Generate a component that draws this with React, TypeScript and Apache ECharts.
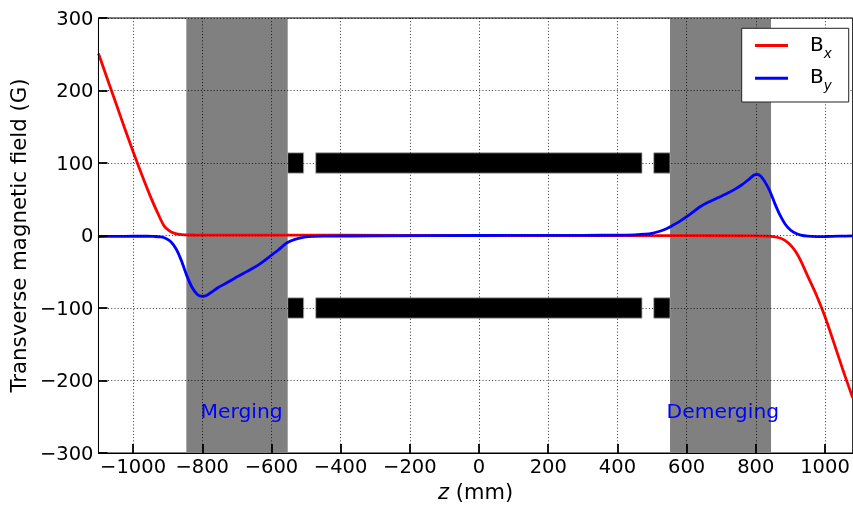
import React, { useEffect, useRef } from "react";
import * as echarts from "echarts";

const FONT = '"DejaVu Sans", sans-serif';

// Transverse field components along the beamline (z in mm, field in G)
const bxZ = [-1100, -1075, -1050, -1025, -1000, -975, -950, -925, -910, -895, -880, -865, -850, -825, -800, -600, -400, 0, 400, 600, 800, 825, 850, 870, 885, 900, 915, 930, 950, 975, 1000, 1025, 1050, 1080];
const bxVal = [251, 217, 183, 149, 116, 84, 54, 27, 13, 6.5, 3, 1.6, 1, 0.7, 0.6, 0.6, 0.5, 0, -0.3, -0.3, -0.5, -0.8, -1.5, -3.5, -7, -13, -22, -35, -56, -82, -112, -147, -183, -224];

const byZ = [-1100, -1050, -1000, -960, -940, -920, -905, -890, -875, -860, -845, -830, -815, -800, -785, -770, -755, -730, -705, -680, -655, -630, -605, -580, -555, -530, -505, -480, -450, -300, 0, 300, 400, 450, 480, 500, 520, 540, 560, 580, 600, 620, 640, 665, 690, 715, 740, 760, 780, 795, 805, 815, 825, 840, 855, 870, 885, 900, 915, 930, 950, 975, 1000, 1040, 1080];
const byVal = [-1.5, -1.2, -1, -1, -1.3, -2, -4, -9, -19, -35, -55, -71, -81, -84, -82, -77, -72, -65.5, -58.5, -52, -45.5, -38, -29, -20, -10, -5, -2.3, -1.2, -0.8, -0.6, 0, 0.3, 0.5, 1, 1.8, 3, 5.5, 9, 14, 19.5, 26, 33, 40, 46.5, 52, 57.5, 64, 70, 77.5, 83.5, 84.3, 81.5, 75, 62, 44, 28, 15.5, 7.5, 3, 0.5, -1, -1.5, -1.4, -1, -0.6];

// Merging / demerging regions (z ranges, mm)
const regionNames = ["Merging", "Demerging"];
const regionRanges = [
  [-846, -553],
  [552, 844],
];
const regionLabelZ = [-805, 542];
const regionLabelField = -242;

// Magnet yokes drawn at +/-100 G
const yokeSegments = [
  [-553, -507],
  [-472, 471],
  [505, 552],
];
const yokeLevels = [100, -100];
const yokeHalfHeight = 14;

const xTicks = [-1000, -800, -600, -400, -200, 0, 200, 400, 600, 800, 1000];
const X_MIN = -1100;
const X_MAX = 1080;
const Y_MIN = -300;
const Y_MAX = 300;

const minusFmt = (v: number) => String(v).replace("-", "\u2212");

export default function App() {
  const ref = useRef<HTMLDivElement>(null);

  useEffect(() => {
    if (!ref.current) return;
    const chart = echarts.init(ref.current, null, { renderer: "svg" });

    const yokeData: number[][] = [];
    yokeLevels.forEach((lvl) => yokeSegments.forEach(([a, b]) => yokeData.push([a, b, lvl])));

    const gridLine = { show: true, lineStyle: { color: "#000", width: 1, type: [1, 2.2], opacity: 0.8 } };

    chart.setOption({
      animation: false,
      textStyle: { fontFamily: FONT },
      grid: {
        left: 97.7,
        right: 0.3,
        top: 18,
        bottom: 53.7,
        show: true,
        borderColor: "#000",
        borderWidth: 1,
        backgroundColor: "transparent",
      },
      legend: {
        data: ["Bx", "By"],
        orient: "vertical",
        left: 741.7,
        top: 28.3,
        icon: "rect",
        itemWidth: 33,
        itemHeight: 3,
        itemGap: 6.7,
        padding: [5.2, 17, 9.8, 13.3],
        borderColor: "#222",
        borderWidth: 1,
        borderRadius: 0,
        backgroundColor: "#fff",
        z: 10,
        formatter: (name: string) => (name === "Bx" ? "{b|B}{s|x}" : "{b|B}{s|y}"),
        textStyle: {
          rich: {
            b: { fontSize: 20, fontFamily: FONT, color: "#000", lineHeight: 24, verticalAlign: "top", padding: [0, 0, 0, 17] },
            s: { fontSize: 13.5, fontFamily: FONT, fontStyle: "italic", color: "#000", lineHeight: 13, verticalAlign: "top", padding: [12, 0, 0, 0] },
          },
        },
      },
      xAxis: {
        type: "value",
        min: X_MIN,
        max: X_MAX,
        z: 5,
        name: "{i|z} (mm)",
        nameLocation: "middle",
        nameGap: 28,
        nameTextStyle: {
          fontSize: 21,
          color: "#000",
          fontFamily: FONT,
          rich: { i: { fontSize: 21, fontStyle: "italic", fontFamily: FONT, color: "#000" } },
        },
        axisLine: { show: true, onZero: false, lineStyle: { color: "#000", width: 1 } },
        axisTick: { show: true, inside: true, length: 9, customValues: xTicks, lineStyle: { color: "#000", width: 1.8 } },
        axisLabel: { customValues: xTicks, fontSize: 19.5, color: "#000", margin: 3, fontFamily: FONT, formatter: minusFmt },
        splitLine: { ...gridLine, customValues: xTicks },
      },
      yAxis: {
        type: "value",
        min: Y_MIN,
        max: Y_MAX,
        interval: 100,
        z: 5,
        name: "Transverse magnetic field (G)",
        nameLocation: "middle",
        nameGap: 64,
        nameTextStyle: { fontSize: 21.3, color: "#000", fontFamily: FONT },
        axisLine: { show: true, onZero: false, lineStyle: { color: "#000", width: 1 } },
        axisTick: { show: true, inside: true, length: 9, lineStyle: { color: "#000", width: 1.8 } },
        axisLabel: { fontSize: 19.5, color: "#000", margin: 5, fontFamily: FONT, formatter: minusFmt },
        splitLine: gridLine,
      },
      series: [
        {
          type: "custom",
          name: "regions",
          z: 1,
          silent: true,
          data: regionRanges,
          encode: { x: [0, 1] },
          renderItem: (_p: any, api: any) => {
            const a = api.coord([api.value(0), Y_MAX]);
            const b = api.coord([api.value(1), Y_MIN]);
            return {
              type: "rect",
              shape: { x: a[0], y: a[1], width: b[0] - a[0], height: b[1] - a[1] },
              style: { fill: "#808080" },
            };
          },
        },
        {
          type: "custom",
          name: "yokes",
          z: 1,
          silent: true,
          data: yokeData,
          encode: { x: [0, 1], y: 2 },
          renderItem: (_p: any, api: any) => {
            const lvl = api.value(2);
            const a = api.coord([api.value(0), lvl + yokeHalfHeight]);
            const b = api.coord([api.value(1), lvl - yokeHalfHeight]);
            return {
              type: "rect",
              shape: { x: a[0], y: a[1], width: b[0] - a[0], height: b[1] - a[1] },
              style: { fill: "#000", stroke: "#aaa", lineWidth: 0.8 },
            };
          },
        },
        {
          type: "custom",
          name: "regionLabels",
          z: 4,
          silent: true,
          data: regionLabelZ.map((z) => [z, regionLabelField]),
          renderItem: (p: any, api: any) => {
            const c = api.coord([api.value(0), api.value(1)]);
            return {
              type: "text",
              x: c[0],
              y: c[1],
              style: {
                text: regionNames[p.dataIndex],
                fill: "#0000ff",
                fontSize: 20.3,
                fontFamily: FONT,
                align: "left",
                verticalAlign: "middle",
              },
            };
          },
        },
        {
          type: "line",
          name: "Bx",
          data: bxZ.map((z, i) => [z, bxVal[i]]),
          showSymbol: false,
          symbol: "none",
          smooth: 0.25,
          lineStyle: { color: "#ff0000", width: 2.8 },
          itemStyle: { color: "#ff0000" },
          z: 2,
        },
        {
          type: "line",
          name: "By",
          data: byZ.map((z, i) => [z, byVal[i]]),
          showSymbol: false,
          symbol: "none",
          smooth: 0.25,
          lineStyle: { color: "#0000ff", width: 2.8 },
          itemStyle: { color: "#0000ff" },
          z: 2,
        },
      ],
    });

    return () => chart.dispose();
  }, []);

  return <div ref={ref} style={{ position: "fixed", left: 0, top: 0, width: 853, height: 507 }} />;
}
